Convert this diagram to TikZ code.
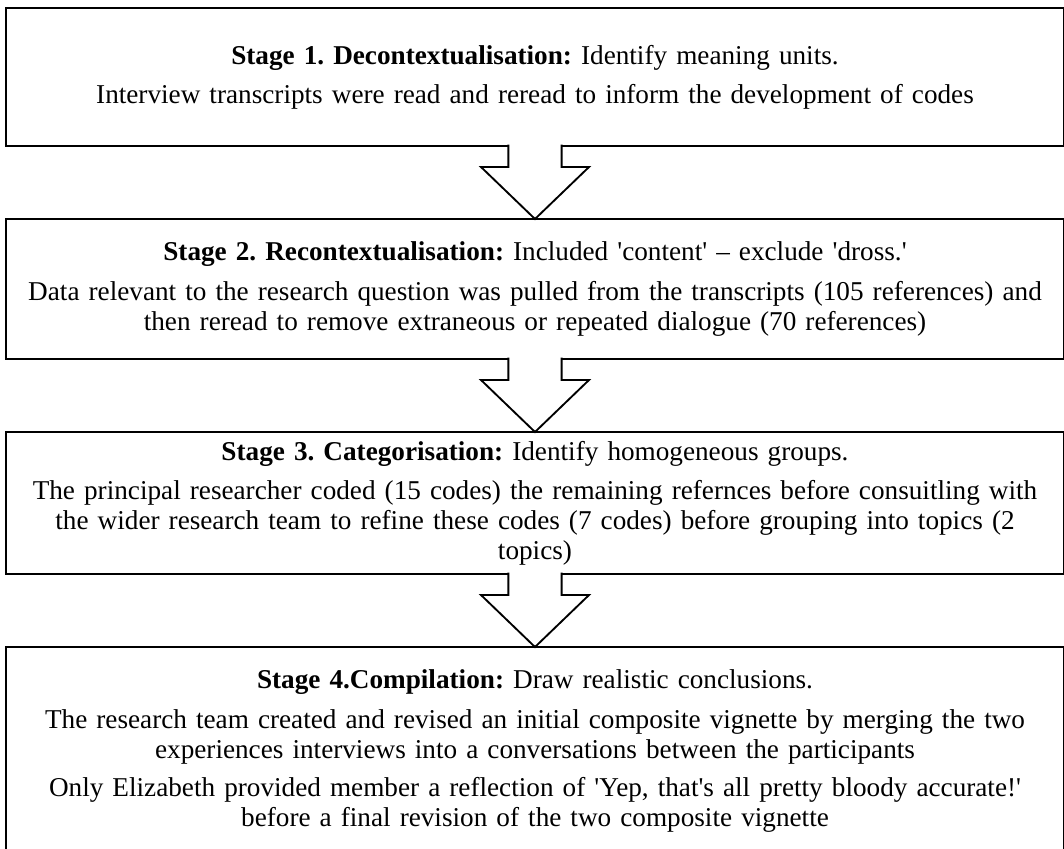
\documentclass[tikz,border=0pt]{standalone}
\usepackage{fontspec}
\setmainfont{Liberation Serif}
\usetikzlibrary{positioning,calc}
\frenchspacing

\tikzset{
	stagebox/.style={draw, line width=1.4pt, outer sep=0pt, inner sep=0pt,
		text width=793.5pt, align=center, font=\fontsize{20.4}{22.5}\selectfont},
	blockarrow/.style={draw, line width=1.4pt, fill=white, line join=miter}
}

\begin{document}
\begin{tikzpicture}[node distance=54.75pt]
	\path[use as bounding box,clip] (0,0) rectangle (798pt,-636.75pt);
	
	\node[stagebox, anchor=north west, minimum height=103.5pt] (s1) at (4.5pt,-6pt)
	{\textbf{Stage 1. Decontextualisation:} Identify meaning units.\\[7pt]
		Interview transcripts were read and reread to inform the development of codes};
	
	\node[stagebox, minimum height=105pt, below=of s1] (s2)
	{\textbf{Stage 2. Recontextualisation:} Included \textquotesingle content\textquotesingle{} – exclude \textquotesingle dross.\textquotesingle\\[7pt]
		Data relevant to the research question was pulled from the transcripts (105 references) and\\
		then reread to remove extraneous or repeated dialogue (70 references)};
	
	\node[stagebox, minimum height=106.5pt, below=of s2] (s3)
	{\textbf{Stage 3. Categorisation:} Identify homogeneous groups.\\[7pt]
		The principal researcher coded (15 codes) the remaining refernces before consuitling with\\
		the wider research team to refine these codes (7 codes) before grouping into topics (2\\
		topics)};
	
	\node[stagebox, minimum height=156pt, below=of s3] (s4)
	{\textbf{Stage 4.Compilation:} Draw realistic conclusions.\\[7pt]
		The research team created and revised an initial composite vignette by merging the two\\
		experiences interviews into a conversations between the participants\\[6pt]
		Only Elizabeth provided member a reflection of \textquotesingle Yep, that\textquotesingle s all pretty bloody accurate!\textquotesingle\\
		before a final revision of the two composite vignette};
	
	\draw[blockarrow] ($(s1.south)+(-20pt,1pt)$) -- ($(s1.south)+(-20pt,-15.75pt)$)
	-- ($(s1.south)+(-40.5pt,-15.75pt)$) -- (s2.north)
	-- ($(s1.south)+(40.5pt,-15.75pt)$) -- ($(s1.south)+(20pt,-15.75pt)$)
	-- ($(s1.south)+(20pt,1pt)$);
	
	\draw[blockarrow] ($(s2.south)+(-20pt,1pt)$) -- ($(s2.south)+(-20pt,-15.75pt)$)
	-- ($(s2.south)+(-40.5pt,-15.75pt)$) -- (s3.north)
	-- ($(s2.south)+(40.5pt,-15.75pt)$) -- ($(s2.south)+(20pt,-15.75pt)$)
	-- ($(s2.south)+(20pt,1pt)$);
	
	\draw[blockarrow] ($(s3.south)+(-20pt,1pt)$) -- ($(s3.south)+(-20pt,-15.75pt)$)
	-- ($(s3.south)+(-40.5pt,-15.75pt)$) -- (s4.north)
	-- ($(s3.south)+(40.5pt,-15.75pt)$) -- ($(s3.south)+(20pt,-15.75pt)$)
	-- ($(s3.south)+(20pt,1pt)$);
\end{tikzpicture}
\end{document}
